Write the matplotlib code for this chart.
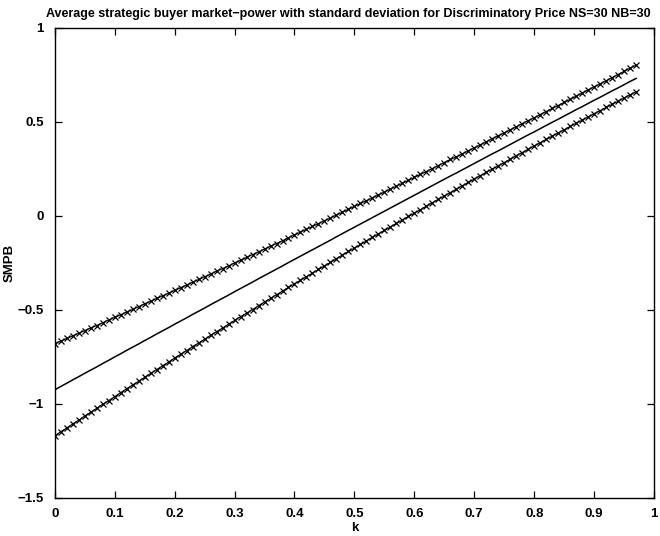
#! /usr/bin/env python3

""" Average strategic buyer market-power (SMPB) against k, with the
    mean +/- one standard deviation drawn as crossed lines.
"""

import numpy as np
from matplotlib import pyplot as plt

# k sampled every 0.01 from 0 to 0.97
k = np.round(np.arange(0, 0.975, 0.01), 2)

# mean SMPB
smpb_mean = [
    -0.925, -0.907, -0.890, -0.872, -0.855, -0.837, -0.820, -0.803, -0.785, -0.768,
    -0.750, -0.733, -0.715, -0.698, -0.681, -0.663, -0.646, -0.628, -0.611, -0.594,
    -0.576, -0.559, -0.542, -0.524, -0.507, -0.490, -0.472, -0.455, -0.438, -0.421,
    -0.403, -0.386, -0.369, -0.352, -0.334, -0.317, -0.300, -0.283, -0.266, -0.248,
    -0.231, -0.214, -0.197, -0.180, -0.163, -0.146, -0.129, -0.111, -0.094, -0.077,
    -0.060, -0.043, -0.026, -0.009, 0.008, 0.025, 0.042, 0.059, 0.076, 0.093,
    0.110, 0.127, 0.144, 0.161, 0.178, 0.195, 0.212, 0.228, 0.245, 0.262,
    0.279, 0.296, 0.313, 0.330, 0.346, 0.363, 0.380, 0.397, 0.414, 0.431,
    0.447, 0.464, 0.481, 0.498, 0.514, 0.531, 0.548, 0.565, 0.581, 0.598,
    0.615, 0.631, 0.648, 0.665, 0.681, 0.698, 0.715, 0.731,
]

# standard deviation of SMPB
smpb_std = [
    0.245, 0.241, 0.238, 0.234, 0.231, 0.227, 0.224, 0.220, 0.217, 0.214,
    0.211, 0.207, 0.204, 0.201, 0.198, 0.195, 0.192, 0.189, 0.186, 0.183,
    0.180, 0.177, 0.174, 0.171, 0.169, 0.166, 0.163, 0.161, 0.158, 0.155,
    0.153, 0.150, 0.148, 0.146, 0.143, 0.141, 0.139, 0.136, 0.134, 0.132,
    0.130, 0.128, 0.126, 0.124, 0.122, 0.120, 0.118, 0.116, 0.114, 0.112,
    0.111, 0.109, 0.107, 0.105, 0.104, 0.102, 0.101, 0.099, 0.098, 0.096,
    0.095, 0.094, 0.092, 0.091, 0.090, 0.089, 0.088, 0.086, 0.085, 0.084,
    0.083, 0.082, 0.081, 0.081, 0.080, 0.079, 0.078, 0.077, 0.077, 0.076,
    0.075, 0.075, 0.074, 0.074, 0.073, 0.073, 0.072, 0.072, 0.072, 0.072,
    0.071, 0.071, 0.071, 0.071, 0.071, 0.071, 0.071, 0.071,
]

x_ticks = [0, 0.1, 0.2, 0.3, 0.4, 0.5, 0.6, 0.7, 0.8, 0.9, 1]
y_ticks = [-1.5, -1, -0.5, 0, 0.5, 1]

title = "Average strategic buyer market\u2212power with standard deviation for Discriminatory Price NS=30 NB=30"

if __name__ == "__main__":
    plt.rcParams["font.family"] = ["Liberation Sans", "DejaVu Sans"]
    plt.rcParams["font.weight"] = "bold"

    mean = np.array(smpb_mean)
    std = np.array(smpb_std)

    fig = plt.figure(figsize=(6.6, 5.36), dpi=100)
    ax = fig.add_axes([0.083, 0.071, 0.908, 0.877])

    ax.plot(k, mean, "k-", linewidth=1.1)
    ax.plot(k, mean + std, "k-x", linewidth=0.8, markersize=5, markeredgewidth=0.9)
    ax.plot(k, mean - std, "k-x", linewidth=0.8, markersize=5, markeredgewidth=0.9)

    ax.set_xlim(0, 1)
    ax.set_ylim(-1.5, 1)
    ax.set_xticks(x_ticks)
    ax.set_xticklabels(["0", "0.1", "0.2", "0.3", "0.4", "0.5", "0.6", "0.7", "0.8", "0.9", "1"])
    ax.set_yticks(y_ticks)
    ax.set_yticklabels(["\u22121.5", "\u22121", "\u22120.5", "0", "0.5", "1"])
    ax.tick_params(direction="in", length=5, width=0.9, top=True, right=True,
                   labelsize=9.5)
    ax.tick_params(axis="x", pad=7)
    ax.tick_params(axis="y", pad=8)
    for spine in ax.spines.values():
        spine.set_linewidth(1.0)

    ax.set_xlabel("k", fontsize=9.5, fontweight="bold", labelpad=2)
    ax.set_ylabel("SMPB", fontsize=9.5, fontweight="bold")
    ax.yaxis.set_label_coords(-0.066, 0.5)
    ax.set_title(title, fontsize=9.0, fontweight="bold", pad=8, x=0.49)

    fig.savefig("out.png", dpi=100)
